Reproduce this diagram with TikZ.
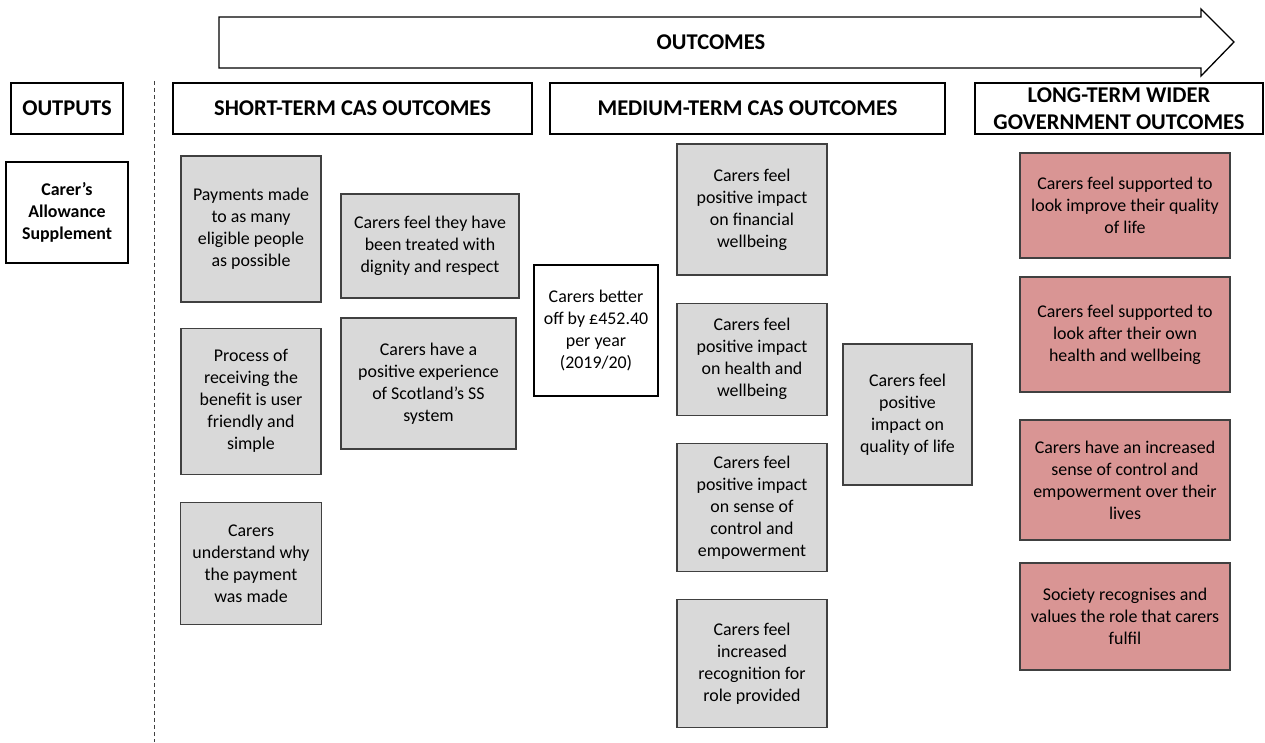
\documentclass[tikz,border=0pt]{standalone}
\usepackage{fontspec}
\setmainfont{Carlito}
\usepackage{xcolor}
\usetikzlibrary{positioning}
\definecolor{boxgrey}{HTML}{D9D9D9}
\definecolor{boxrose}{HTML}{D99594}
\definecolor{edgegrey}{HTML}{404040}

\begin{document}
\begin{tikzpicture}[
    x=1pt, y=-1pt,
    node distance=27pt,
    every node/.style={align=center, inner sep=0pt, font=\fontsize{17.9}{22}\selectfont},
    head/.style={draw=black, line width=1.6pt, minimum height=51pt, font=\fontsize{22.5}{27}\selectfont\bfseries},
    outbox/.style={draw=black, line width=1.2pt, fill=white},
    greybox/.style={draw=edgegrey, line width=1.2pt, fill=boxgrey, minimum width=150pt},
    rosebox/.style={draw=edgegrey, line width=1.2pt, fill=boxrose, minimum width=210pt}
]
\useasboundingbox (0,0) rectangle (1265,742);
% big arrow across the top
\draw[line width=1.3pt, fill=white] (219,17) -- (1201,17) -- (1201,9) -- (1234,42)
    -- (1201,76) -- (1201,68) -- (219,68) -- cycle;
\node[font=\fontsize{22.5}{27}\selectfont\bfseries] (outc) at (711,42) {OUTCOMES};
\draw[edgegrey, line width=0.8pt, dash pattern=on 4pt off 3pt] (154,81) -- (154,742);
% column headers
\node[head, minimum width=112pt] (outputs) at (67,108.5) {OUTPUTS};
\node[head, minimum width=359pt] (short) at (352.5,108.5) {SHORT-TERM CAS OUTCOMES};
\node[head, minimum width=395pt] (medium) at (747.5,108.5) {MEDIUM-TERM CAS OUTCOMES};
\node[head, minimum width=288pt] (long) at (1119,108.5) {LONG-TERM WIDER\\GOVERNMENT OUTCOMES};
% output
\node[outbox, minimum width=122pt, minimum height=101pt, font=\fontsize{17.9}{22}\selectfont\bfseries] (cas) at (67,212.5)
{Carer’s\\Allowance\\Supplement};
% short-term
\node[greybox, minimum width=140pt, minimum height=146pt] (pay) at (251,229)
{Payments made\\to as many\\eligible people\\as possible};
\node[greybox, minimum width=140pt, minimum height=146pt, below=25pt of pay] (proc)
{Process of\\receiving the\\benefit is user\\friendly and\\simple};
\node[greybox, minimum width=141pt, minimum height=122pt, below=27pt of proc] (under)
{Carers\\understand why\\the payment\\was made};
\node[greybox, minimum width=178pt, minimum height=104pt] (dignity) at (430,246)
{Carers feel they have\\been treated with\\dignity and respect};
\node[greybox, minimum width=175pt, minimum height=131pt] (posexp) at (428.5,383.5)
{Carers have a\\positive experience\\of Scotland’s SS\\system};
\node[outbox, line width=2pt, minimum width=124pt, minimum height=131pt] (better) at (596,330.5)
{Carers better\\off by £452.40\\per year\\(2019/20)};
% medium-term
\node[greybox, minimum height=131pt] (fin) at (752,209.5)
{Carers feel\\positive impact\\on financial\\wellbeing};
\node[greybox, minimum height=112pt, below=of fin] (health)
{Carers feel\\positive impact\\on health and\\wellbeing};
\node[greybox, minimum height=128pt, below=of health] (control)
{Carers feel\\positive impact\\on sense of\\control and\\empowerment};
\node[greybox, minimum height=128pt, below=of control] (recog)
{Carers feel\\increased\\recognition for\\role provided};
\node[greybox, minimum width=129pt, minimum height=141pt] (quality) at (907.5,414.5)
{Carers feel\\positive\\impact on\\quality of life};
% long-term
\node[rosebox, minimum height=105pt] (lt1) at (1125,205.5)
{Carers feel supported to\\look improve their quality\\of life};
\node[rosebox, minimum height=115pt] (lt2) at (1125,334.5)
{Carers feel supported to\\look after their own\\health and wellbeing};
\node[rosebox, minimum height=120pt] (lt3) at (1125,480)
{Carers have an increased\\sense of control and\\empowerment over their\\lives};
\node[rosebox, minimum height=107pt] (lt4) at (1125,616.5)
{Society recognises and\\values the role that carers\\fulfil};
\end{tikzpicture}
\end{document}
